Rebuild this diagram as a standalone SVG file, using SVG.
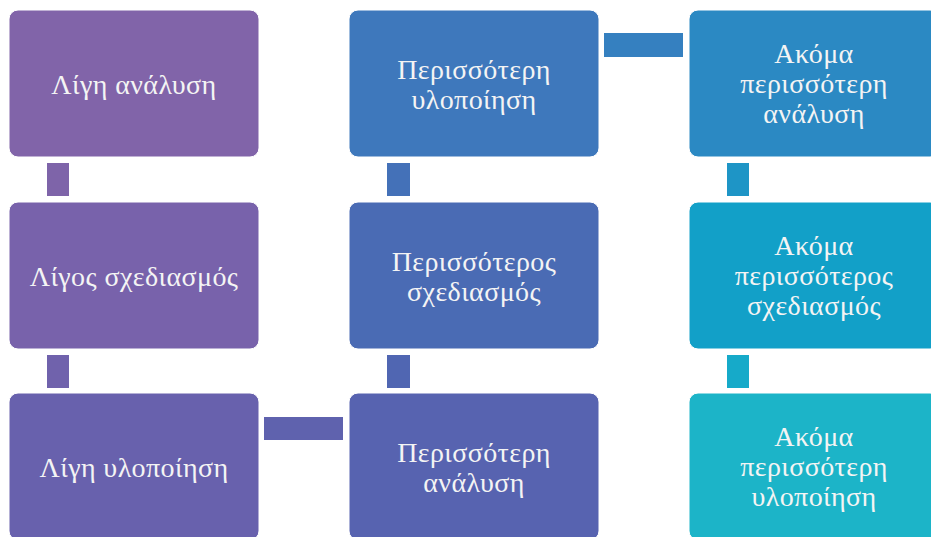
<svg xmlns="http://www.w3.org/2000/svg" width="931" height="537" viewBox="0 0 931 537">
<style>
.box{stroke:#ffffff;stroke-width:1}
.lbl{font-family:"Liberation Serif","Times New Roman",serif;font-size:28px;letter-spacing:0.4px;fill:#F4F4F4;text-anchor:middle}
</style>
<rect width="931" height="537" fill="#ffffff"/>
<g id="connectors">
<rect x="47" y="163" width="22" height="33" fill="#7E64A9"/>
<rect x="47" y="355" width="22" height="33" fill="#7062AC"/>
<rect x="264" y="417" width="79" height="23" fill="#5F62AE"/>
<rect x="387" y="355" width="23" height="33" fill="#5066B2"/>
<rect x="387" y="163" width="23" height="33" fill="#4471B8"/>
<rect x="604" y="33" width="79" height="24" fill="#3580C0"/>
<rect x="727" y="163" width="22" height="33" fill="#1E95C6"/>
<rect x="727" y="355" width="22" height="33" fill="#16AAC9"/>
</g>
<g id="n1"><rect class="box" x="9" y="10" width="250" height="147" rx="9" fill="#8164A9"/><text class="lbl" x="134" y="94">Λίγη ανάλυση</text></g>
<g id="n2"><rect class="box" x="9" y="202" width="250" height="147" rx="9" fill="#7862AB"/><text class="lbl" x="134" y="286">Λίγος σχεδιασμός</text></g>
<g id="n3"><rect class="box" x="9" y="393" width="250" height="147" rx="9" fill="#6861AD"/><text class="lbl" x="134" y="477">Λίγη υλοποίηση</text></g>
<g id="n4"><rect class="box" x="349" y="393" width="250" height="147" rx="9" fill="#5763B0"/><text class="lbl" x="474" y="462">Περισσότερη</text><text class="lbl" x="474" y="492">ανάλυση</text></g>
<g id="n5"><rect class="box" x="349" y="202" width="250" height="147" rx="9" fill="#4A6BB4"/><text class="lbl" x="474" y="271">Περισσότερος</text><text class="lbl" x="474" y="301">σχεδιασμός</text></g>
<g id="n6"><rect class="box" x="349" y="10" width="250" height="147" rx="9" fill="#3E78BC"/><text class="lbl" x="474" y="79">Περισσότερη</text><text class="lbl" x="474" y="109">υλοποίηση</text></g>
<g id="n7"><rect class="box" x="689" y="10" width="250" height="147" rx="9" fill="#2B89C3"/><text class="lbl" x="814" y="63">Ακόμα</text><text class="lbl" x="814" y="93">περισσότερη</text><text class="lbl" x="814" y="123">ανάλυση</text></g>
<g id="n8"><rect class="box" x="689" y="202" width="250" height="147" rx="9" fill="#12A0C8"/><text class="lbl" x="814" y="255">Ακόμα</text><text class="lbl" x="814" y="285">περισσότερος</text><text class="lbl" x="814" y="315">σχεδιασμός</text></g>
<g id="n9"><rect class="box" x="689" y="393" width="250" height="147" rx="9" fill="#1CB4C8"/><text class="lbl" x="814" y="446">Ακόμα</text><text class="lbl" x="814" y="476">περισσότερη</text><text class="lbl" x="814" y="506">υλοποίηση</text></g>
</svg>
